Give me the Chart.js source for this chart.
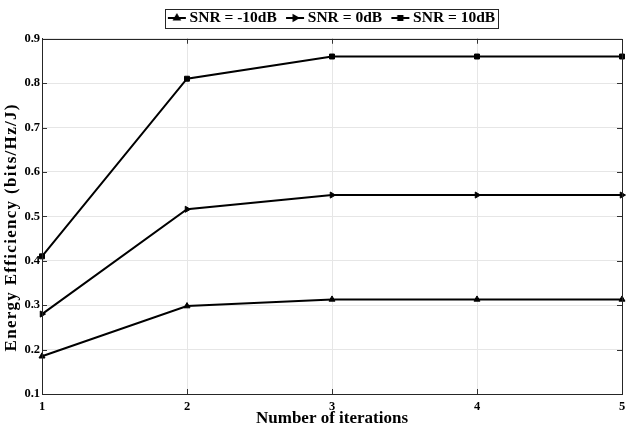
<!DOCTYPE html>
<html>
<head>
<meta charset="utf-8">
<script src="https://cdn.jsdelivr.net/npm/chart.js@4"></script>
<style>
html,body{margin:0;padding:0;background:#fff;}
#wrap{width:627px;height:429px;}
</style>
</head>
<body>
<div id="wrap"><canvas id="c" width="627" height="429"></canvas></div>
<script>
const iterations = ['1', '2', '3', '4', '5'];
const snrMinus10 = [0.185, 0.298, 0.313, 0.313, 0.313];
const snr0 = [0.280, 0.516, 0.548, 0.548, 0.548];
const snr10 = [0.410, 0.810, 0.860, 0.860, 0.860];
const seriesNames = ['SNR = -10dB', 'SNR = 0dB', 'SNR = 10dB'];
const yTicks = [0.1, 0.2, 0.3, 0.4, 0.5, 0.6, 0.7, 0.8, 0.9];

const FONT = "'Liberation Serif', 'Times New Roman', serif";
const LEGEND_FONT = 15.5;
const LEGEND_PAD = 13.25;

function legendIcon(style, rotation) {
  const cv = document.createElement('canvas');
  cv.width = 20; cv.height = 10;
  const ctx = cv.getContext('2d');
  ctx.strokeStyle = '#000'; ctx.lineWidth = 2;
  ctx.beginPath(); ctx.moveTo(1, 5); ctx.lineTo(19, 5); ctx.stroke();
  ctx.fillStyle = '#000';
  Chart.helpers.drawPoint(ctx, {pointStyle: style, rotation: rotation, radius: 3, borderWidth: 1}, 10, 5);
  ctx.fill();
  return cv;
}

const styles = [['triangle', 0], ['triangle', 90], ['rect', 0]];

const frame = {
  id: 'frame',
  beforeUpdate(chart) {
    const lg = chart.legend;
    if (lg && !lg._extraPatched) {
      const of = lg.fit;
      lg.fit = function () { of.apply(this, arguments); this.height += 3; };
      lg._extraPatched = true;
    }
  },
  afterUpdate(chart) {
    const lg = chart.legend;
    const a = chart.chartArea;
    const d = Math.round((a.left + a.right) / 2 - (lg.left + lg.right) / 2) + 1;
    lg.left += d; lg.right += d;
    (lg.legendHitBoxes || []).forEach(h => { h.left += d; });
  },
  afterDraw(chart) {
    const ctx = chart.ctx;
    const a = chart.chartArea;
    const xs = chart.scales.x, ys = chart.scales.y;
    ctx.save();
    ctx.strokeStyle = '#333';
    ctx.lineWidth = 1;
    ctx.beginPath();
    for (let i = 1; i < iterations.length - 1; i++) {
      const px = Math.round(xs.getPixelForValue(i)) + 0.5;
      ctx.moveTo(px, a.bottom); ctx.lineTo(px, a.bottom - 5);
      ctx.moveTo(px, a.top); ctx.lineTo(px, a.top + 5);
    }
    for (let j = 1; j < yTicks.length - 1; j++) {
      const py = Math.round(ys.getPixelForValue(yTicks[j])) + 0.5;
      ctx.moveTo(a.left, py); ctx.lineTo(a.left + 5, py);
      ctx.moveTo(a.right, py); ctx.lineTo(a.right - 5, py);
    }
    ctx.stroke();
    ctx.strokeStyle = '#262626';
    ctx.strokeRect(Math.round(a.left) + 0.5, Math.round(a.top) + 0.5,
      Math.round(a.right - a.left), Math.round(a.bottom - a.top));
    const lg = chart.legend;
    const hb = lg.legendHitBoxes;
    if (hb && hb.length) {
      let l = Infinity, r = -Infinity;
      hb.forEach(h => { l = Math.min(l, h.left); r = Math.max(r, h.left + h.width); });
      const c = lg.top + LEGEND_PAD + LEGEND_FONT / 2;
      const L = Math.round(l - 7) + 0.5, R = Math.round(r + 3) + 0.5;
      const T = Math.round(c - 9.5) + 0.5, B = Math.round(c + 9.5) + 0.5;
      ctx.strokeStyle = '#262626';
      ctx.strokeRect(L, T, R - L, B - T);
    }
    ctx.restore();
  }
};

function mkDataset(i, data) {
  return {
    label: seriesNames[i],
    data: data,
    borderColor: '#000',
    backgroundColor: '#000',
    borderWidth: 2,
    pointStyle: styles[i][0],
    rotation: styles[i][1],
    pointRadius: 3.5,
    pointBorderWidth: 1,
    pointBackgroundColor: '#000',
    pointBorderColor: '#000',
    tension: 0,
    fill: false
  };
}

new Chart(document.getElementById('c'), {
  type: 'line',
  data: {
    labels: iterations,
    datasets: [mkDataset(0, snrMinus10), mkDataset(1, snr0), mkDataset(2, snr10)]
  },
  plugins: [frame],
  options: {
    responsive: false,
    animation: false,
    devicePixelRatio: 1,
    layout: { padding: { left: 0, right: 4, top: -3, bottom: 0 } },
    plugins: {
      tooltip: { enabled: false },
      legend: {
        position: 'top',
        labels: {
          color: '#000',
          font: { family: FONT, size: LEGEND_FONT, weight: 'bold' },
          usePointStyle: true,
          pointStyleWidth: 10,
          boxHeight: 10,
          padding: LEGEND_PAD,
          generateLabels(chart) {
            return chart.data.datasets.map((ds, i) => ({
              text: ds.label,
              pointStyle: legendIcon(styles[i][0], styles[i][1]),
              fillStyle: '#000',
              strokeStyle: '#000',
              lineWidth: 0,
              hidden: false,
              datasetIndex: i,
              fontColor: '#000'
            }));
          }
        }
      }
    },
    scales: {
      x: {
        type: 'category',
        offset: false,
        grid: { color: '#e6e6e6', drawTicks: false, lineWidth: 1 },
        border: { display: true, color: '#262626' },
        ticks: { color: '#000', font: { family: FONT, size: 12.5, weight: 'bold' }, padding: 5, maxRotation: 0 },
        title: { display: true, text: 'Number of iterations', color: '#000', font: { family: FONT, size: 17, weight: 'bold' }, padding: { top: 0, bottom: 0 } },
        afterFit(scale) { scale.height = 35; scale.paddingRight = 0; scale.paddingLeft = 0; }
      },
      y: {
        min: 0.1,
        max: 0.9,
        grid: { color: '#e6e6e6', drawTicks: false, lineWidth: 1 },
        border: { display: true, color: '#262626' },
        afterBuildTicks(scale) { scale.ticks = yTicks.map(v => ({ value: v })); },
        ticks: {
          color: '#000',
          font: { family: FONT, size: 12.5, weight: 'bold' },
          padding: 2,
          callback: v => v.toFixed(1)
        },
        title: { display: true, text: 'Energy Efficiency (bits/Hz/J)', color: '#000', font: { family: FONT, size: 17, weight: 'bold' }, padding: { top: 0, bottom: 0 } },
        afterFit(scale) {
          scale.width = 42;
          if (!scale._lsPatched) {
            const orig = scale.drawTitle;
            scale.drawTitle = function () {
              const ctx = this.ctx;
              ctx.save();
              ctx.translate(1, 11);
              ctx.letterSpacing = '1.3px';
              orig.apply(this, arguments);
              ctx.restore();
            };
            scale._lsPatched = true;
          }
        }
      }
    }
  }
});
</script>
</body>
</html>
